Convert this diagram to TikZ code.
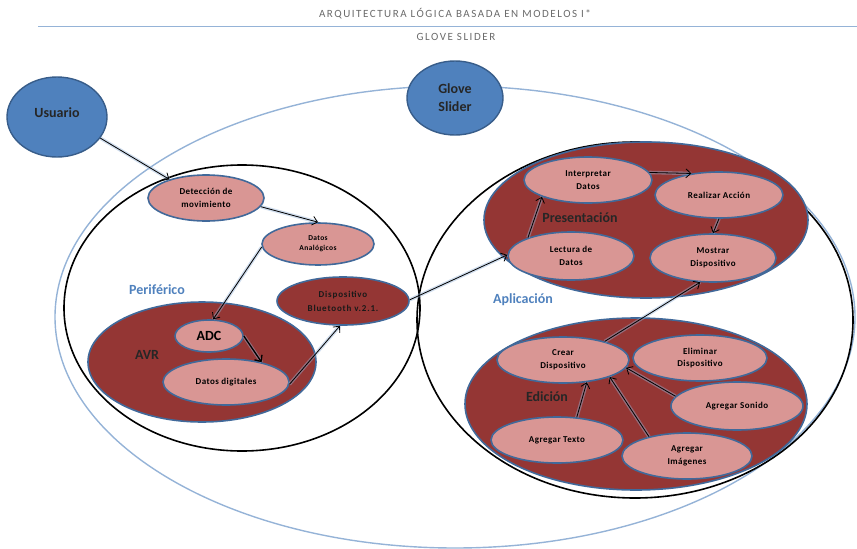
\documentclass[tikz,border=0pt]{standalone}
\usepackage{fontspec}
\setmainfont{Carlito}
\usepackage{tikz}
\usetikzlibrary{shapes.geometric}
\usetikzlibrary{arrows.meta}
\definecolor{vino}{HTML}{943634}
\definecolor{rosa}{HTML}{D99694}
\definecolor{borde}{HTML}{41699A}
\definecolor{azul}{HTML}{4F81BD}
\definecolor{azulosc}{HTML}{385D8A}
\definecolor{celeste}{HTML}{95B3D7}
\definecolor{gris}{HTML}{6A6A6A}
\tikzset{caso/.style={ellipse, draw=borde, line width=1.6pt, fill=rosa, inner sep=0pt, align=center, font=\bfseries\fontsize{9}{12.5}\selectfont\addfontfeatures{LetterSpace=5}}}
\tikzset{zona/.style={ellipse, draw=borde, line width=1.6pt, fill=vino, inner sep=0pt}}
\tikzset{borde/.style={ellipse, draw=black, line width=1.6pt, inner sep=0pt}}
\tikzset{actor/.style={ellipse, draw=azulosc, line width=1.4pt, fill=azul, inner sep=0pt, align=center, font=\bfseries\fontsize{14}{18}\selectfont, text=black!85}}
\tikzset{l/.style={font=\bfseries\fontsize{14}{16}\selectfont}}
\tikzset{m/.style={text=gris, font=\fontsize{11}{12}\selectfont\addfontfeatures{LetterSpace=14}}}
\tikzset{ar/.style={->, line width=0.8pt, preaction={draw=celeste, line width=3.5pt, opacity=0.45, -}}}

\begin{document}
\begin{tikzpicture}[x=1pt, y=-1pt, >={Straight Barb[length=5pt,width=9pt]}]
  \useasboundingbox (0,0) rectangle (857,549);
  % cabecera
  \node[m] (titulo) at (455,14) {ARQUITECTURA LÓGICA BASADA EN MODELOS I*};
  \coordinate (li) at (38,26);
  \coordinate (ld) at (857,26);
  \draw[celeste, line width=1pt] (li) -- (ld);
  \node[m] (subtitulo) at (456,37) {GLOVE SLIDER};

  % contenedores
  \node[ellipse, draw=celeste, line width=1.4pt, inner sep=0pt, minimum width=800, minimum height=462] (sistema) at (455,317) {};
  \node[borde, minimum width=356, minimum height=286] (periferico) at (242,308) {};
  \node[borde, minimum width=436, minimum height=356] (aplicacion) at (635,320) {};
  \node[zona, minimum width=228, minimum height=120] (avr) at (202,362) {};
  \node[zona, minimum width=324, minimum height=156] (presentacion) at (646,220) {};
  \node[zona, minimum width=342, minimum height=172] (edicion) at (636,404) {};

  \node[l, text=azul] (tperif) at (157,290) {Periférico};
  \node[l, text=black!85] (tavr) at (147,355) {AVR};
  \node[l, text=black!85] (tpres) at (580,218) {Presentación};
  \node[l, text=azul] (tapli) at (523,300) {Aplicación};
  \node[l, text=black!85] (tedic) at (547,397) {Edición};

  % actores
  \node[actor, minimum width=100, minimum height=80] (usuario) at (57,117) {\raisebox{8pt}{Usuario}};
  \node[actor, minimum width=96, minimum height=74] (glove) at (455,98) {\raisebox{6pt}{\parbox{44pt}{\centering Glove\\Slider}}};

  % periferico
  \node[caso, minimum width=116, minimum height=46] (deteccion) at (206,198) {Detección de\\movimiento};
  \node[caso, minimum width=112, minimum height=42, font=\bfseries\fontsize{7.5}{10}\selectfont\addfontfeatures{LetterSpace=5}] (analogicos) at (318,244) {Datos\\Analógicos};
  \node[caso, fill=vino, minimum width=132, minimum height=48, font=\bfseries\fontsize{9}{14}\selectfont\addfontfeatures{LetterSpace=9}, text=black!90] (bluetooth) at (343,301) {Dispositivo\\Bluetooth v.2.1.};
  \node[caso, minimum width=68, minimum height=32, font=\bfseries\fontsize{14}{16}\selectfont] (adc) at (209,336) {ADC};
  \node[caso, minimum width=126, minimum height=46] (digitales) at (226,382) {Datos digitales};

  % presentacion
  \node[caso, minimum width=128, minimum height=46] (interpretar) at (588,180) {Interpretar\\Datos};
  \node[caso, minimum width=128, minimum height=46] (realizar) at (719,195) {Realizar Acción};
  \node[caso, minimum width=126, minimum height=48] (lectura) at (571,256) {Lectura de\\Datos};
  \node[caso, minimum width=126, minimum height=48] (mostrar) at (713,258) {Mostrar\\Dispositivo};

  % edicion
  \node[caso, minimum width=132, minimum height=46] (crear) at (563,360) {Crear\\Dispositivo};
  \node[caso, minimum width=134, minimum height=46] (eliminar) at (700,358) {Eliminar\\Dispositivo};
  \node[caso, minimum width=132, minimum height=48] (sonido) at (737,406) {Agregar Sonido};
  \node[caso, minimum width=132, minimum height=46] (texto) at (557,440) {Agregar Texto};
  \node[caso, minimum width=130, minimum height=46] (imagenes) at (687,456) {Agregar\\Imágenes};

  % flujo
  \draw[ar] (usuario.-26) -- (deteccion.153);
  \draw[ar] (deteccion.-9) -- (analogicos.90);
  \draw[ar] (analogicos.183) -- (adc.76);
  \draw[ar, line width=1.3pt] (adc.0) -- (digitales.29);
  \draw[ar] (digitales.-2) -- (bluetooth.263);
  \draw[ar] (bluetooth.1) -- (lectura.179);
  \draw[ar] (lectura.157) -- (interpretar.200);
  \draw[ar] (interpretar.7) -- (realizar.142);
  \draw[ar] (realizar.south) -- (mostrar.north);
  \draw[ar] (crear.24) -- (mostrar.242);
  \draw[ar] (texto.49) -- (crear.-43);
  \draw[ar] (imagenes.153) -- (crear.-20);
  \draw[ar] (sonido.171) -- (crear.-7);
\end{tikzpicture}
\end{document}
